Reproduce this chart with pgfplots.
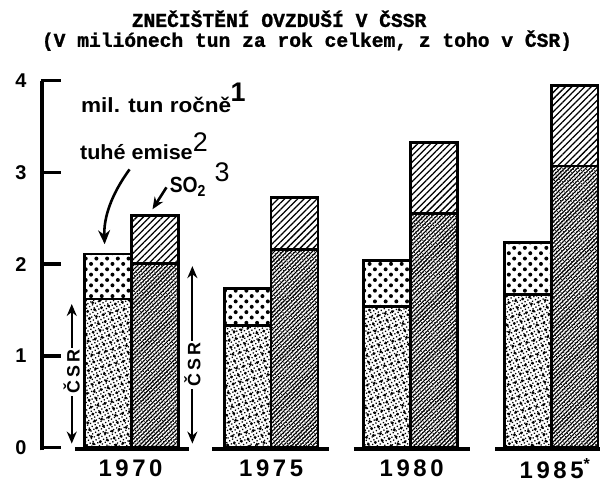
\documentclass[border=0pt]{standalone}
\usepackage{pgfplots}
\pgfplotsset{compat=1.18}
\usetikzlibrary{patterns.meta,arrows.meta}
\usepackage{fontspec}
\setmainfont{Liberation Sans}
\newfontfamily\titlefont[FakeBold=1.2]{Liberation Mono}
\begin{document}
\begin{tikzpicture}
\begin{axis}[scale only axis, width=301pt, height=240pt,
  xmin=0, xmax=602, ymin=-0.33696, ymax=4.88043,
  axis lines=none, ticks=none, clip=false]
\path (rel axis cs:0,0) rectangle (rel axis cs:1,1);
% tuhe emise: celkem (CSSR)
\addplot[ybar, bar width=23.5pt, bar shift=0pt, draw=black, line width=1.4pt, fill=white,
  postaction={pattern={Dots[radius=1pt,distance=3.8pt,angle=45]}}]
  coordinates {(108.5,2.11) (248.5,1.73) (388.5,2.04) (529.5,2.24)};
% tuhe emise: CSR
\addplot[ybar, bar width=23.5pt, bar shift=0pt, draw=black, line width=1.4pt, fill=white,
  postaction={pattern={Dots[radius=0.45pt,distance=1.7pt,angle=30]}},
  postaction={pattern={Dots[radius=0.8pt,distance=3.6pt,angle=15]}}]
  coordinates {(108.5,1.62) (248.5,1.33) (388.5,1.54) (529.5,1.67)};
% SO2: celkem (CSSR)
\addplot[ybar, bar width=23.5pt, bar shift=0pt, draw=black, line width=1.4pt, fill=white,
  postaction={pattern={Lines[angle=45,distance=2.3pt,line width=0.65pt]}}]
  coordinates {(155.5,2.53) (295.5,2.73) (435.5,3.33) (576.5,3.95)};
% SO2: CSR
\addplot[ybar, bar width=23.5pt, bar shift=0pt, draw=black, line width=1.4pt, fill=white,
  postaction={pattern={Lines[angle=45,distance=1.5pt,line width=0.55pt]}},
  postaction={pattern={Dots[radius=0.3pt,distance=1.3pt,angle=10]}}]
  coordinates {(155.5,2.01) (295.5,2.16) (435.5,2.55) (576.5,3.07)};

% baselines
\draw[line width=2pt] (axis cs:75,-0.02) -- (axis cs:190,-0.02);
\draw[line width=2pt] (axis cs:213,-0.02) -- (axis cs:330,-0.02);
\draw[line width=2pt] (axis cs:355,-0.02) -- (axis cs:472,-0.02);
\draw[line width=2pt] (axis cs:497,-0.02) -- (axis cs:602,-0.02);

% y axis
\draw[line width=2pt] (axis cs:42,-0.03) -- (axis cs:42,4.0);
\draw[line width=1.7pt] (axis cs:41,0) -- (axis cs:61,0);
\draw[line width=1.7pt] (axis cs:41,1) -- (axis cs:61,1);
\draw[line width=1.7pt] (axis cs:41,2) -- (axis cs:61,2);
\draw[line width=1.7pt] (axis cs:41,3) -- (axis cs:61,3);
\draw[line width=1.7pt] (axis cs:41,4) -- (axis cs:61,4);
\node[font=\bfseries\fontsize{10}{12}\selectfont] at (axis cs:21,0) {0};
\node[font=\bfseries\fontsize{10}{12}\selectfont] at (axis cs:21,1) {1};
\node[font=\bfseries\fontsize{10}{12}\selectfont] at (axis cs:21,2) {2};
\node[font=\bfseries\fontsize{10}{12}\selectfont] at (axis cs:21,3) {3};
\node[font=\bfseries\fontsize{10}{12}\selectfont] at (axis cs:21,4) {4};

% title
\node[anchor=base, inner sep=0, font=\titlefont\bfseries\fontsize{9.85}{12}\selectfont] at (axis cs:280,4.587) {ZNEČIŠTĚNÍ OVZDUŠÍ V ČSSR};
\node[anchor=base, inner sep=0, font=\titlefont\bfseries\fontsize{9.85}{12}\selectfont] at (axis cs:308,4.370) {(V miliónech tun za rok celkem, z toho v ČSR)};

% labels
\node[anchor=base west, inner sep=0, font=\bfseries\fontsize{10.3}{12}\selectfont] at (axis cs:81,3.652) {\scalebox{1.1}[1]{mil. tun ročně}};
\node[anchor=base west, inner sep=0, font=\bfseries\fontsize{13.5}{14}\selectfont] at (axis cs:231,3.772) {1};
\node[anchor=base west, inner sep=0, font=\bfseries\fontsize{10.3}{12}\selectfont] at (axis cs:80,3.141) {\scalebox{1.05}[1]{tuhé emise}};
\node[anchor=base west, inner sep=0, font=\fontsize{13.5}{14}\selectfont] at (axis cs:193,3.228) {2};
\node[anchor=base west, inner sep=0, font=\fontsize{13.5}{14}\selectfont] at (axis cs:215,2.902) {3};
\node[anchor=base west, inner sep=0, font=\bfseries\fontsize{11}{12}\selectfont] at (axis cs:170,2.783) {\scalebox{0.88}[1]{SO\raisebox{-0.35ex}{\fontsize{8}{9}\selectfont 2}}};

% pointer arrows
\draw[line width=1.3pt, -{Stealth[length=7pt,width=6pt]}] (axis cs:130,3.033) .. controls (axis cs:111,2.75) and (axis cs:104,2.5) .. (axis cs:105,2.217);
\draw[line width=1.3pt, -{Stealth[length=6pt,width=5pt]}] (axis cs:167,2.837) -- (axis cs:153,2.598);

% CSR arrows
\draw[line width=1pt, {Stealth[length=6pt,width=5pt]}-{Stealth[length=6pt,width=5pt]}] (axis cs:72,0.043) -- (axis cs:72,1.565);
\node[fill=white, inner sep=1pt, rotate=90, font=\bfseries\fontsize{9}{10}\selectfont] at (axis cs:72,0.826) {Č\,S\,R};
\draw[line width=1pt, {Stealth[length=6pt,width=5pt]}-{Stealth[length=6pt,width=5pt]}] (axis cs:193,0.043) -- (axis cs:193,1.978);
\node[fill=white, inner sep=1pt, rotate=90, font=\bfseries\fontsize{9}{10}\selectfont] at (axis cs:193,0.902) {Č\,S\,R};

% year labels
\node[font=\bfseries\fontsize{12}{13}\selectfont] at (axis cs:131,-0.228) {1\hspace{1.8pt}9\hspace{1.8pt}7\hspace{1.8pt}0};
\node[font=\bfseries\fontsize{12}{13}\selectfont] at (axis cs:272,-0.228) {1\hspace{1.8pt}9\hspace{1.8pt}7\hspace{1.8pt}5};
\node[font=\bfseries\fontsize{12}{13}\selectfont] at (axis cs:413,-0.228) {1\hspace{1.8pt}9\hspace{1.8pt}8\hspace{1.8pt}0};
\node[font=\bfseries\fontsize{12}{13}\selectfont, anchor=west, inner sep=0] at (axis cs:521,-0.228) {1\hspace{1.8pt}9\hspace{1.8pt}8\hspace{1.8pt}5\raisebox{0.7ex}{\fontsize{8}{9}\selectfont *}};
\end{axis}
\end{tikzpicture}
\end{document}
